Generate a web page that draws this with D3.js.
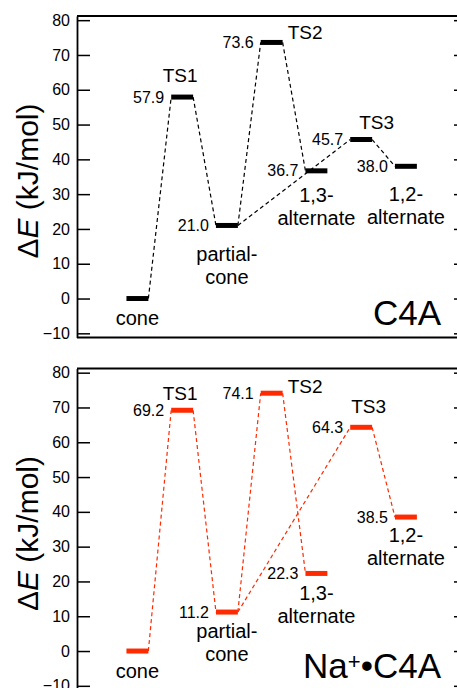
<!DOCTYPE html>
<html>
<head>
<meta charset="utf-8">
<script src="https://cdn.jsdelivr.net/npm/d3@7"></script>
<style>
  body { margin: 0; background: #fff; }
  svg text { font-family: "Liberation Sans", Arial, Helvetica, sans-serif; fill: #000; }
</style>
</head>
<body>
<svg id="chart" width="457" height="688"></svg>
<script>
'use strict';

// data
const states = ['cone', 'TS1', 'partial-cone', 'TS2', '1,3-alternate', 'TS3', '1,2-alternate'];
const stateLines = [['cone'], ['TS1'], ['partial-', 'cone'], ['TS2'], ['1,3-', 'alternate'], ['TS3'], ['1,2-', 'alternate']];
const isTS = [false, true, false, true, false, true, false];
const energyC4A = [0, 57.9, 21.0, 73.6, 36.7, 45.7, 38.0];
const energyNaC4A = [0, 69.2, 11.2, 74.1, 22.3, 64.3, 38.5];
const links = [[0, 1], [1, 2], [2, 3], [3, 4], [2, 5], [5, 6]];
const yTicks = [-10, 0, 10, 20, 30, 40, 50, 60, 70, 80];

// label nudges (pixels) relative to the level centre, one per state
const labelPosTop = [
    {dx: 0, dy: 26}, {dx: -2, dy: -15, anchor: 'middle'}, {dx: 0, dy: 36},
    {dx: 16, dy: -3, anchor: 'start'}, {dx: 0, dy: 31}, {dx: -2, dy: -11, anchor: 'start'}, {dx: 0, dy: 35}
];
const labelPosBottom = [
    {dx: 0, dy: 27}, {dx: -2, dy: -10, anchor: 'middle'}, {dx: 0, dy: 26},
    {dx: 16, dy: 0, anchor: 'start'}, {dx: 0, dy: 27}, {dx: -10, dy: -14, anchor: 'start'}, {dx: 0, dy: 25}
];

const svg = d3.select('#chart');

var x = d3.scaleLinear()
    .domain([-0.35, 8.365])
    .range([77, 467]);
const halfW = 0.245;

function drawPanel(energy, top, color, labelPos, name) {
    var y = d3.scaleLinear()
        .domain([-11.2, 81.2])
        .range([top + 321.5, top]);

    var g = svg.append('g');
    var levels = energy.map(function(e, i) { return {i: i, e: e}; });

    // frame
    g.append('g')
        .attr('transform', 'translate(' + x.range()[0] + ',0)')
        .call(d3.axisLeft(y).tickValues(yTicks).tickSizeInner(-13).tickSizeOuter(0).tickPadding(7))
        .call(function(a) {
            a.select('.domain').attr('stroke-width', 1.8);
            a.selectAll('.tick line').attr('stroke-width', 1.5);
            a.selectAll('.tick text').style('font-size', '16px').attr('fill', '#000');
        });
    g.append('g')
        .attr('transform', 'translate(' + x.range()[1] + ',0)')
        .call(d3.axisRight(y).tickValues(yTicks).tickSizeInner(-13).tickSizeOuter(0).tickFormat(''))
        .call(function(a) {
            a.select('.domain').attr('stroke-width', 1.8);
            a.selectAll('.tick line').attr('stroke-width', 1.5);
        });
    g.selectAll('.hframe')
        .data(y.range())
        .enter().append('line')
        .attr('x1', x.range()[0]).attr('x2', x.range()[1])
        .attr('y1', function(d) { return d; }).attr('y2', function(d) { return d; })
        .attr('stroke', '#000').attr('stroke-width', 1.8);

    // dashed connectors
    g.selectAll('.link')
        .data(links)
        .enter().append('line')
        .attr('x1', function(d) { return x(d[0] + 1 + halfW); })
        .attr('y1', function(d) { return y(energy[d[0]]); })
        .attr('x2', function(d) { return x(d[1] + 1 - halfW); })
        .attr('y2', function(d) { return y(energy[d[1]]); })
        .attr('stroke', color)
        .attr('stroke-width', 1.2)
        .attr('stroke-dasharray', '4,3');

    // levels
    g.selectAll('.level')
        .data(levels)
        .enter().append('line')
        .attr('x1', function(d) { return x(d.i + 1 - halfW); })
        .attr('x2', function(d) { return x(d.i + 1 + halfW); })
        .attr('y1', function(d) { return y(d.e); })
        .attr('y2', function(d) { return y(d.e); })
        .attr('stroke', color)
        .attr('stroke-width', 5);

    // values (the cone reference level has none)
    g.selectAll('.val')
        .data(levels.slice(1))
        .enter().append('text')
        .attr('x', function(d) { return x(d.i + 1 - halfW) - 7; })
        .attr('y', function(d) { return y(d.e); })
        .attr('dy', '0.35em')
        .attr('text-anchor', 'end')
        .style('font-size', '16px')
        .text(function(d) { return d.e.toFixed(1); });

    // state names
    stateLines.forEach(function(lines, i) {
        var p = labelPos[i];
        var t = g.append('text')
            .attr('x', x(i + 1) + p.dx)
            .attr('y', y(energy[i]) + p.dy)
            .attr('text-anchor', p.anchor || 'middle')
            .style('font-size', isTS[i] ? '19px' : '20px');
        lines.forEach(function(s, j) {
            t.append('tspan')
                .attr('x', x(i + 1) + p.dx)
                .attr('dy', j === 0 ? 0 : 23)
                .text(s);
        });
    });

    // y title
    var title = g.append('text')
        .attr('transform', 'translate(38,' + (top + 165) + ') rotate(-90)')
        .attr('text-anchor', 'middle')
        .style('font-size', '30px');
    title.append('tspan').text('\u0394');
    title.append('tspan').style('font-style', 'italic').text('E');
    title.append('tspan').text(' (kJ/mol)');

    // panel name
    var nm = g.append('text')
        .attr('x', 441)
        .attr('y', top + 309)
        .attr('text-anchor', 'end')
        .style('font-size', '35px');
    name.forEach(function(part) {
        var ts = nm.append('tspan').text(part.t);
        if (part.sup) ts.style('font-size', '22px').attr('baseline-shift', '40%');
    });
}

drawPanel(energyC4A, 16, '#000', labelPosTop, [{t: 'C4A'}]);
drawPanel(energyNaC4A, 368.5, '#ff2a00', labelPosBottom, [{t: 'Na'}, {t: '+', sup: true}, {t: '\u2022C4A'}]);
</script>
</body>
</html>
